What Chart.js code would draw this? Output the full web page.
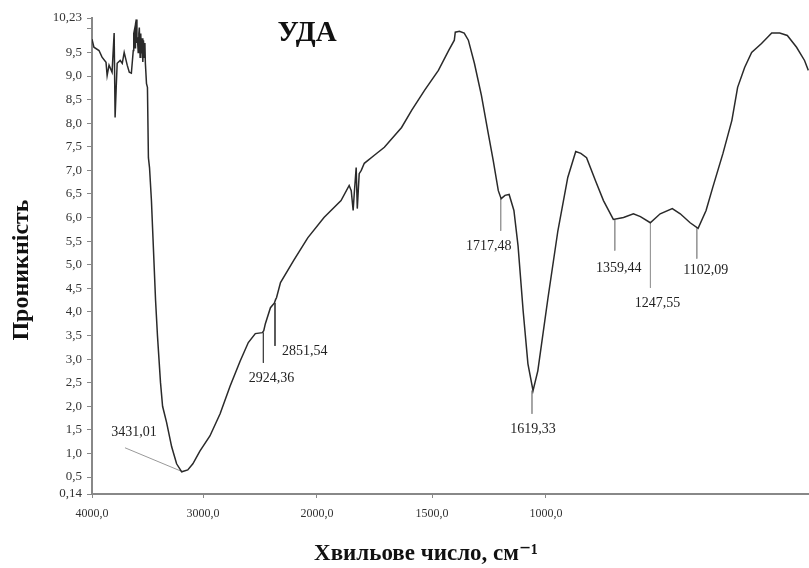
<!doctype html>
<html lang="uk">
<head>
<meta charset="utf-8">
<title>УДА</title>
<script src="https://cdn.jsdelivr.net/npm/chart.js"></script>
<style>
  html, body { margin: 0; padding: 0; background: #fff; }
  canvas { display: block; }
</style>
</head>
<body>
<canvas id="ir" width="809" height="568"></canvas>
<script>
// spectrum: wavenumber (cm-1) and transmittance
const wavenumbers = [
  4000, 3988, 3956, 3937, 3912, 3905, 3893, 3874, 3861, 3855, 3848, 3842, 3823, 3810, 3798, 3779,
  3766, 3753, 3741, 3738, 3734, 3730, 3727, 3722, 3718, 3715, 3710, 3706, 3703, 3698, 3694, 3690,
  3686, 3681, 3677, 3672, 3668, 3665, 3658, 3652, 3646, 3639, 3627, 3620,
  3614, 3601, 3589, 3570, 3557, 3532, 3500, 3469, 3437, 3399, 3367, 3323, 3260, 3196, 3133, 3070,
  3019, 2975, 2931, 2922, 2912, 2880, 2855, 2848, 2842, 2817, 2734, 2646, 2544, 2437, 2386, 2373,
  2361, 2354, 2342, 2335, 2323, 2310, 2291, 2228, 2165, 2057, 1997, 1956, 1913, 1881, 1863, 1860,
  1847, 1832, 1819, 1800, 1778, 1757, 1741, 1725, 1716, 1704, 1691, 1676, 1663, 1647, 1632, 1616,
  1601, 1569, 1538, 1507, 1482, 1466, 1448, 1420, 1395, 1364, 1332, 1301, 1279, 1248, 1217, 1179,
  1154, 1123, 1098, 1073, 1052, 1020, 992, 974, 952, 930, 899, 880, 867, 842, 818, 789,
  764, 752
];
const transmittance = [
  9.78, 9.61, 9.54, 9.40, 9.29, 9.01, 9.23, 9.08, 9.91, 8.12, 8.76, 9.27, 9.33, 9.27, 9.50, 9.23,
  9.08, 9.06, 9.54, 9.90, 9.97, 9.60, 10.10, 10.20, 9.70, 9.82, 9.50, 9.90, 10.03, 9.40, 9.90, 9.48,
  9.80, 9.30, 9.76, 9.40, 9.70, 9.27, 8.84, 8.76, 7.27, 7.06, 6.36, 5.79,
  5.30, 4.24, 3.49, 2.50, 2.00, 1.66, 1.14, 0.78, 0.61, 0.65, 0.78, 1.05, 1.37, 1.84, 2.43, 2.96,
  3.35, 3.54, 3.56, 3.60, 3.75, 4.09, 4.19, 4.26, 4.30, 4.62, 5.09, 5.57, 6.00, 6.36, 6.68, 6.57,
  6.15, 6.51, 7.06, 6.19, 6.93, 7.00, 7.15, 7.32, 7.49, 7.91, 8.27, 8.70, 9.12, 9.54, 9.76, 9.93,
  9.95, 9.91, 9.76, 9.27, 8.59, 7.80, 7.21, 6.57, 6.40, 6.47, 6.49, 6.15, 5.40, 4.02, 2.90, 2.33,
  2.75, 4.30, 5.72, 6.85, 7.40, 7.36, 7.27, 6.78, 6.36, 5.96, 6.00, 6.08, 6.02, 5.89, 6.08, 6.19,
  6.08, 5.89, 5.77, 6.15, 6.64, 7.36, 8.06, 8.76, 9.18, 9.50, 9.69, 9.82, 9.91, 9.91, 9.86, 9.61,
  9.33, 9.12
];

// axis ticks as printed on the original
const xTickPos = [4000, 3303, 2588, 1866, 1151];
const xTickLabels = ['4000,0', '3000,0', '2000,0', '1500,0', '1000,0'];
const yTickValues = [0.14, 0.5, 1, 1.5, 2, 2.5, 3, 3.5, 4, 4.5, 5, 5.5, 6, 6.5, 7, 7.5, 8, 8.5, 9, 9.5, 10, 10.23];
const yTickLabels = ['0,14', '0,5', '1,0', '1,5', '2,0', '2,5', '3,0', '3,5', '4,0', '4,5', '5,0',
  '5,5', '6,0', '6,5', '7,0', '7,5', '8,0', '8,5', '9,0', '9,5', '', '10,23'];

// picked peaks: leader line from the curve (peakTop) to peakEnd
const peakWn = [3431.01, 2924.36, 2851.54, 1717.48, 1619.33, 1359.44, 1247.55, 1102.09];
const peakTop = [0.61, 3.56, 4.19, 6.40, 2.33, 5.96, 5.89, 5.77];
const peakEndWn = [3793, 2924.36, 2851.54, 1717.48, 1619.33, 1359.44, 1247.55, 1102.09];
const peakEnd = [1.12, 2.92, 3.28, 5.72, 1.84, 5.30, 4.51, 5.13];

// label placement relative to the end of each leader (px)
const labelShift = [[9, -15, 'center'], [8, 15, 'center'], [7, 5, 'left'], [-12, 16, 'center'],
  [1, 16, 'center'], [4, 18, 'center'], [7, 15, 'center'], [9, 12, 'center']];
const leaderColor = ['#999', '#444', '#444', '#999', '#999', '#999', '#999', '#999'];

// below 2000 cm-1 the scale is stretched twice
function toAxis(w) {
  return w >= 2000 ? w : 2000 - 2 * (2000 - w);
}

const serif = '"Liberation Serif", "DejaVu Serif", serif';

const datasets = [{
  data: wavenumbers.map((w, i) => ({ x: toAxis(w), y: transmittance[i] })),
  borderColor: '#2a2a2a',
  borderWidth: 1.5,
  pointRadius: 0,
  tension: 0
}];
peakWn.forEach((w, i) => {
  datasets.push({
    data: [{ x: toAxis(w), y: peakTop[i] }, { x: toAxis(peakEndWn[i]), y: peakEnd[i] }],
    borderColor: leaderColor[i],
    borderWidth: 1,
    pointRadius: 0
  });
});

const textLayer = {
  id: 'textLayer',
  afterDatasetsDraw(chart) {
    const { ctx, scales: { x, y } } = chart;
    ctx.save();
    ctx.fillStyle = '#222';
    ctx.font = '14px ' + serif;
    ctx.textBaseline = 'middle';
    peakWn.forEach((w, i) => {
      const [dx, dy, align] = labelShift[i];
      ctx.textAlign = align;
      ctx.fillText(w.toFixed(2).replace('.', ','),
        x.getPixelForValue(toAxis(peakEndWn[i])) + dx,
        y.getPixelForValue(peakEnd[i]) + dy);
    });

    ctx.fillStyle = '#111';
    ctx.textAlign = 'center';
    ctx.textBaseline = 'alphabetic';
    ctx.font = 'bold 29px ' + serif;
    ctx.fillText('УДА', 307, 41);

    ctx.font = 'bold 23px ' + serif;
    ctx.fillText('Хвильове число, см⁻¹', 426, 560);

    ctx.translate(22, 270);
    ctx.rotate(-Math.PI / 2);
    ctx.textBaseline = 'middle';
    ctx.font = 'bold 24px ' + serif;
    ctx.fillText('Проникність', 0, 0);
    ctx.restore();
  }
};

new Chart(document.getElementById('ir'), {
  type: 'line',
  data: { datasets: datasets },
  plugins: [textLayer],
  options: {
    responsive: false,
    animation: false,
    devicePixelRatio: 1,
    layout: { padding: { top: 18, right: 0, bottom: 0, left: 0 } },
    plugins: { legend: { display: false }, tooltip: { enabled: false } },
    scales: {
      x: {
        type: 'linear',
        reverse: true,
        min: -500,
        max: 4000,
        afterBuildTicks: scale => { scale.ticks = xTickPos.map(v => ({ value: v })); },
        afterFit: scale => { scale.height = 74; },
        ticks: {
          autoSkip: false,
          maxRotation: 0,
          padding: 9,
          color: '#333',
          font: { family: serif, size: 12 },
          callback: (v, i) => xTickLabels[i]
        },
        grid: { drawOnChartArea: false, tickLength: 4, color: '#888' },
        border: { color: '#888', width: 2 }
      },
      y: {
        min: 0.14,
        max: 10.23,
        afterBuildTicks: scale => { scale.ticks = yTickValues.map(v => ({ value: v })); },
        afterFit: scale => { scale.width = 92; },
        ticks: {
          autoSkip: false,
          padding: 5,
          color: '#333',
          font: { family: serif, size: 13 },
          callback: (v, i) => yTickLabels[i]
        },
        grid: { drawOnChartArea: false, tickLength: 5, color: '#888' },
        border: { color: '#888', width: 2 }
      }
    }
  }
});
</script>
</body>
</html>
